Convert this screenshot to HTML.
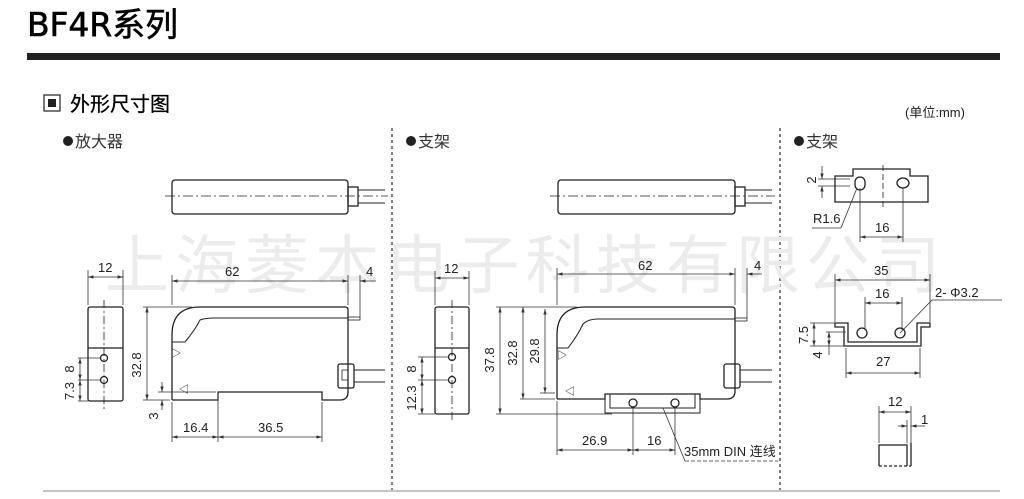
<!DOCTYPE html>
<html><head><meta charset="utf-8"><style>
html,body{margin:0;padding:0;background:#fff;}
svg{display:block;}
text{font-family:"Liberation Sans","Noto Sans CJK SC",sans-serif;fill:#222;}
</style></head><body>
<svg width="1024" height="499" viewBox="0 0 1024 499" xmlns="http://www.w3.org/2000/svg">
<defs>
<marker id="a" viewBox="0 0 10 10" refX="10" refY="5" markerWidth="7" markerHeight="7" orient="auto-start-reverse"><path d="M0,2 L10,5 L0,8 z" fill="#333"/></marker>
</defs>
<text x="27" y="36" font-size="33" textLength="151" style="fill:#000;font-family:'DejaVu Sans','Noto Sans CJK SC',sans-serif;stroke:#000;stroke-width:0.6">BF4R系列</text>
<rect x="27" y="53" width="973" height="7" fill="#222"/>
<rect x="44" y="95" width="16" height="16" fill="none" stroke="#222" stroke-width="1.2"/>
<rect x="48" y="99" width="8" height="8" fill="#222"/>
<text x="70" y="111" font-size="20" style="fill:#000;stroke:#000;stroke-width:0.3">外形尺寸图</text>
<text x="905" y="117" font-size="13">(单位:mm)</text>
<circle cx="68" cy="141" r="5" fill="#222"/><text x="75" y="147" font-size="16" style="fill:#333">放大器</text>
<circle cx="411" cy="141" r="5" fill="#222"/><text x="418" y="147" font-size="16" style="fill:#333">支架</text>
<circle cx="799" cy="141" r="5" fill="#222"/><text x="806" y="147" font-size="16" style="fill:#333">支架</text>
<line x1="392" y1="128" x2="392" y2="490" stroke="#555" stroke-width="1.5" stroke-dasharray="3,3"/>
<line x1="780" y1="128" x2="780" y2="490" stroke="#555" stroke-width="1.5" stroke-dasharray="3,3"/>
<line x1="43" y1="491" x2="1000" y2="491" stroke="#888" stroke-width="1"/>
<text x="105" y="288" font-size="64" textLength="835" style="fill:#ececec">上海菱本电子科技有限公司</text>

<g stroke="#222" fill="none" stroke-width="1.3">
<rect x="172" y="180" width="176" height="34" rx="3"/>
<rect x="348" y="187" width="10" height="19"/>
<line x1="358" y1="190" x2="385" y2="190" stroke-width="1"/><line x1="358" y1="203" x2="385" y2="203" stroke-width="1"/>
<line x1="165" y1="196" x2="388" y2="196" stroke-width="0.8" stroke-dasharray="10,3,2,3"/>
<rect x="88" y="307" width="35" height="94" rx="2"/>
<line x1="88" y1="348" x2="123" y2="348"/>
<circle cx="104" cy="358" r="3.5"/><circle cx="104" cy="380" r="3.5"/>
<line x1="104" y1="300" x2="104" y2="410" stroke-width="0.8" stroke-dasharray="8,3,2,3"/>
<path d="M172,400 L172,335 Q172,307 200,307 L345,307 Q348,307 348,310 L348,392 Q348,400 340,400 L322,400 L322,392 L218,392 L218,400 L172,400"/>
<path d="M172,342 L185,342 Q195,330 200,320 Q205,318 215,318 L348,318" stroke-width="1"/>
<rect x="348" y="317" width="12" height="3" stroke-width="0.8"/>
<rect x="338" y="364" width="16" height="24" rx="2"/>
<rect x="342" y="370" width="6" height="10" stroke-width="0.8"/>
<line x1="354" y1="370" x2="385" y2="370" stroke-width="1"/><line x1="354" y1="382" x2="385" y2="382" stroke-width="1"/>
<rect x="558" y="180" width="177" height="34" rx="3"/>
<rect x="735" y="187" width="10" height="19"/>
<line x1="745" y1="190" x2="772" y2="190" stroke-width="1"/><line x1="745" y1="203" x2="772" y2="203" stroke-width="1"/>
<line x1="550" y1="196" x2="775" y2="196" stroke-width="0.8" stroke-dasharray="10,3,2,3"/>
<rect x="435" y="307" width="34" height="107" rx="2"/>
<line x1="435" y1="348" x2="469" y2="348"/>
<circle cx="452" cy="357" r="3.5"/><circle cx="452" cy="380" r="3.5"/>
<line x1="452" y1="300" x2="452" y2="420" stroke-width="0.8" stroke-dasharray="8,3,2,3"/>
<path d="M557,399 L557,335 Q557,307 585,307 L732,307 Q735,307 735,310 L735,391 Q735,399 727,399 L700,399 L700,394 L605,394 L605,399 L557,399"/>
<path d="M557,348 L568,348 Q578,335 583,324 Q588,319 598,319 L735,319" stroke-width="1"/>
<rect x="735" y="318" width="12" height="3" stroke-width="0.8"/>
<path d="M605,394 L605,413 L700,413 L700,394 M610,394 L610,408 L695,408 L695,394" stroke-width="1"/>
<circle cx="633" cy="403" r="4"/><circle cx="675" cy="403" r="4"/>
<rect x="724" y="364" width="16" height="24" rx="2"/>
<line x1="740" y1="370" x2="772" y2="370" stroke-width="1"/><line x1="740" y1="382" x2="772" y2="382" stroke-width="1"/>
<path d="M835,176 L853,176 L853,169 L910,169 L910,176 L928,176 L928,202 L835,202 Z"/>
<rect x="855" y="177" width="10" height="13" rx="5"/><ellipse cx="903" cy="183" rx="6" ry="5"/>
<line x1="883" y1="165" x2="883" y2="210" stroke-width="0.8" stroke-dasharray="6,3"/>
<path d="M835,323 L848,323 L848,342 L917,342 L917,323 L930,323 L930,327 L921,327 L921,346 L844,346 L844,327 L835,327 Z"/>
<circle cx="862" cy="333" r="5"/><circle cx="900" cy="333" r="5"/>
<path d="M879,466 L879,445 L907,445 L907,466"/><line x1="911" y1="443" x2="911" y2="466"/>
<line x1="879" y1="466" x2="911" y2="466" stroke-dasharray="3,2"/>
</g>

<g stroke="#333" stroke-width="0.8" fill="none">
<line x1="88" y1="277" x2="123" y2="277" marker-start="url(#a)" marker-end="url(#a)"/>
<line x1="88" y1="270" x2="88" y2="305"/><line x1="123" y1="270" x2="123" y2="305"/>
<line x1="78" y1="358" x2="100" y2="358"/><line x1="78" y1="380" x2="100" y2="380"/><line x1="78" y1="401" x2="88" y2="401"/>
<line x1="80" y1="358" x2="80" y2="380" marker-start="url(#a)" marker-end="url(#a)"/><line x1="80" y1="380" x2="80" y2="401" marker-start="url(#a)" marker-end="url(#a)"/>
<line x1="172" y1="281" x2="348" y2="281" marker-start="url(#a)" marker-end="url(#a)"/>
<line x1="172" y1="275" x2="172" y2="305"/><line x1="348" y1="275" x2="348" y2="305"/><line x1="360" y1="275" x2="360" y2="317"/>
<line x1="360" y1="281" x2="376" y2="281" marker-start="url(#a)"/>
<line x1="143" y1="307" x2="192" y2="307"/><line x1="143" y1="400" x2="170" y2="400"/>
<line x1="147" y1="307" x2="147" y2="400" marker-start="url(#a)" marker-end="url(#a)"/>
<line x1="162" y1="382" x2="162" y2="392" marker-end="url(#a)"/><line x1="162" y1="410" x2="162" y2="400" marker-end="url(#a)"/>
<line x1="158" y1="392" x2="216" y2="392"/>
<line x1="172" y1="402" x2="172" y2="442"/><line x1="218" y1="394" x2="218" y2="442"/><line x1="322" y1="402" x2="322" y2="442"/>
<line x1="172" y1="437" x2="218" y2="437" marker-start="url(#a)" marker-end="url(#a)"/>
<line x1="218" y1="437" x2="322" y2="437" marker-start="url(#a)" marker-end="url(#a)"/>
<line x1="435" y1="278" x2="469" y2="278" marker-start="url(#a)" marker-end="url(#a)"/>
<line x1="435" y1="271" x2="435" y2="305"/><line x1="469" y1="271" x2="469" y2="305"/>
<line x1="418" y1="357" x2="448" y2="357"/><line x1="418" y1="380" x2="448" y2="380"/><line x1="418" y1="414" x2="435" y2="414"/>
<line x1="422" y1="357" x2="422" y2="380" marker-start="url(#a)" marker-end="url(#a)"/><line x1="422" y1="380" x2="422" y2="414" marker-start="url(#a)" marker-end="url(#a)"/>
<line x1="557" y1="274" x2="735" y2="274" marker-start="url(#a)" marker-end="url(#a)"/>
<line x1="557" y1="268" x2="557" y2="305"/><line x1="735" y1="268" x2="735" y2="305"/><line x1="747" y1="268" x2="747" y2="318"/>
<line x1="747" y1="274" x2="762" y2="274" marker-start="url(#a)"/>
<line x1="496" y1="307" x2="577" y2="307"/><line x1="496" y1="414" x2="612" y2="414"/><line x1="520" y1="399" x2="555" y2="399"/><line x1="540" y1="393" x2="555" y2="393"/>
<line x1="500" y1="307" x2="500" y2="414" marker-start="url(#a)" marker-end="url(#a)"/>
<line x1="523" y1="307" x2="523" y2="399" marker-start="url(#a)" marker-end="url(#a)"/>
<line x1="545" y1="309" x2="545" y2="393" marker-start="url(#a)" marker-end="url(#a)"/>
<line x1="557" y1="401" x2="557" y2="455"/><line x1="633" y1="407" x2="633" y2="455"/><line x1="675" y1="407" x2="675" y2="455"/>
<line x1="557" y1="450" x2="633" y2="450" marker-start="url(#a)" marker-end="url(#a)"/>
<line x1="633" y1="450" x2="675" y2="450" marker-start="url(#a)" marker-end="url(#a)"/>
<line x1="663" y1="408" x2="685" y2="461"/><line x1="685" y1="461" x2="778" y2="461" stroke-dasharray="4,2"/>
<line x1="818" y1="179" x2="850" y2="179"/><line x1="818" y1="186" x2="850" y2="186"/>
<line x1="822" y1="166" x2="822" y2="179" marker-end="url(#a)"/><line x1="822" y1="198" x2="822" y2="186" marker-end="url(#a)"/>
<line x1="860" y1="188" x2="860" y2="242"/><line x1="903" y1="188" x2="903" y2="242"/>
<line x1="860" y1="237" x2="903" y2="237" marker-start="url(#a)" marker-end="url(#a)"/>
<line x1="812" y1="228" x2="841" y2="228"/><line x1="841" y1="228" x2="857" y2="188"/>
<line x1="835" y1="280" x2="930" y2="280" marker-start="url(#a)" marker-end="url(#a)"/>
<line x1="835" y1="274" x2="835" y2="322"/><line x1="930" y1="274" x2="930" y2="322"/>
<line x1="865" y1="303" x2="902" y2="303" marker-start="url(#a)" marker-end="url(#a)"/>
<line x1="865" y1="297" x2="865" y2="330"/><line x1="902" y1="297" x2="902" y2="330"/>
<line x1="900" y1="333" x2="932" y2="300"/><line x1="932" y1="300" x2="1002" y2="300"/>
<line x1="810" y1="323" x2="846" y2="323"/><line x1="810" y1="346" x2="846" y2="346"/><line x1="826" y1="332" x2="846" y2="332"/>
<line x1="814" y1="323" x2="814" y2="346" marker-start="url(#a)" marker-end="url(#a)"/>
<line x1="829" y1="332" x2="829" y2="346" marker-start="url(#a)" marker-end="url(#a)"/>
<line x1="829" y1="355" x2="829" y2="346"/>
<line x1="846" y1="348" x2="846" y2="378"/><line x1="920" y1="348" x2="920" y2="378"/>
<line x1="846" y1="373" x2="920" y2="373" marker-start="url(#a)" marker-end="url(#a)"/>
<line x1="879" y1="406" x2="879" y2="443"/><line x1="911" y1="406" x2="911" y2="443"/><line x1="907" y1="420" x2="907" y2="443"/>
<line x1="879" y1="412" x2="911" y2="412" marker-start="url(#a)" marker-end="url(#a)"/>
<line x1="898" y1="426" x2="907" y2="426" marker-end="url(#a)"/><line x1="925" y1="426" x2="911" y2="426" marker-end="url(#a)"/>
</g>

<g font-size="13">
<text x="98" y="272">12</text>
<text x="225" y="276">62</text><text x="366" y="276">4</text>
<text x="141" y="365" transform="rotate(-90 141 365)" text-anchor="middle">32.8</text>
<text x="158" y="416" transform="rotate(-90 158 416)" text-anchor="middle">3</text>
<text x="74" y="369" transform="rotate(-90 74 369)" text-anchor="middle">8</text>
<text x="74" y="391" transform="rotate(-90 74 391)" text-anchor="middle">7.3</text>
<text x="183" y="432">16.4</text><text x="258" y="432">36.5</text>
<text x="444" y="273">12</text>
<text x="416" y="369" transform="rotate(-90 416 369)" text-anchor="middle">8</text>
<text x="416" y="398" transform="rotate(-90 416 398)" text-anchor="middle">12.3</text>
<text x="638" y="270">62</text><text x="754" y="270">4</text>
<text x="494" y="360" transform="rotate(-90 494 360)" text-anchor="middle">37.8</text>
<text x="517" y="353" transform="rotate(-90 517 353)" text-anchor="middle">32.8</text>
<text x="539" y="351" transform="rotate(-90 539 351)" text-anchor="middle">29.8</text>
<text x="582" y="445">26.9</text><text x="647" y="445">16</text>
<text x="684" y="456">35mm DIN 连线</text>
<text x="816" y="180" transform="rotate(-90 816 180)" text-anchor="middle">2</text>
<text x="813" y="223">R1.6</text>
<text x="875" y="232">16</text>
<text x="874" y="275">35</text>
<text x="875" y="298">16</text>
<text x="935" y="297">2- Φ3.2</text>
<text x="808" y="335" transform="rotate(-90 808 335)" text-anchor="middle">7.5</text>
<text x="822" y="355" transform="rotate(-90 822 355)" text-anchor="middle">4</text>
<text x="876" y="366">27</text>
<text x="888" y="406">12</text><text x="921" y="424">1</text>
</g>
<g font-size="10"><text x="180" y="358" transform="rotate(-90 180 358)">▽</text><text x="180" y="384" transform="rotate(90 180 384)">▽</text>
<text x="566" y="360" transform="rotate(-90 566 360)">▽</text><text x="566" y="386" transform="rotate(90 566 386)">▽</text></g>
</svg>
</body></html>
